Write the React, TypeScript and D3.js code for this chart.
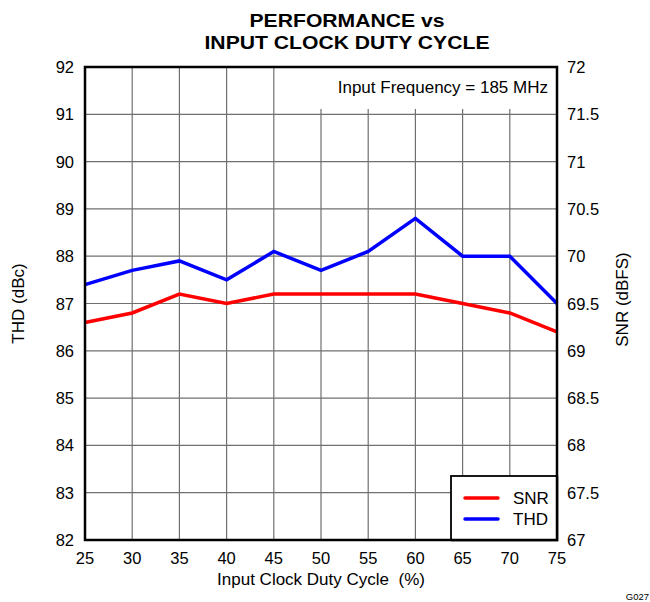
import { useEffect, useRef } from "react";
import * as d3 from "d3";

const dutyCycle = [25, 30, 35, 40, 45, 50, 55, 60, 65, 70, 75];
const thdValues = [87.4, 87.7, 87.9, 87.5, 88.1, 87.7, 88.1, 88.8, 88.0, 88.0, 87.0];
const snrValues = [69.3, 69.4, 69.6, 69.5, 69.6, 69.6, 69.6, 69.6, 69.5, 69.4, 69.2];
const thdTicks = [82, 83, 84, 85, 86, 87, 88, 89, 90, 91, 92];
const snrTicks = [67, 67.5, 68, 68.5, 69, 69.5, 70, 70.5, 71, 71.5, 72];
const seriesNames = ["SNR", "THD"];
const seriesColors = ["#ff0000", "#0000ff"];

function App() {
  const ref = useRef<SVGSVGElement | null>(null);

  useEffect(() => {
    const svg = d3.select(ref.current);
    svg.selectAll("*").remove();

    const left = 85;
    const right = 557;
    const top = 67;
    const bottom = 540;
    const font = "'Liberation Sans', Arial, sans-serif";
    const fs = 16.5;

    const x = d3.scaleLinear().domain([25, 75]).range([left, right]);
    const yL = d3.scaleLinear().domain([82, 92]).range([bottom, top]);
    const yR = d3.scaleLinear().domain([67, 72]).range([bottom, top]);

    svg.append("rect").attr("width", 650).attr("height", 602).attr("fill", "#fff");

    // title (two lines, slightly squeezed so the lines don't touch)
    const titleLines = [
      { text: "PERFORMANCE vs", y: 27, len: 195 },
      { text: "INPUT CLOCK DUTY CYCLE", y: 48.5, len: 285 },
    ];
    titleLines.forEach((t) => {
      svg
        .append("text")
        .attr("x", 347)
        .attr("y", t.y)
        .attr("text-anchor", "middle")
        .attr("font-family", font)
        .attr("font-weight", "bold")
        .attr("font-size", 18.5)
        .attr("textLength", t.len)
        .attr("lengthAdjust", "spacingAndGlyphs")
        .text(t.text);
    });

    // grid
    const grid = svg.append("g").attr("stroke", "#707070").attr("stroke-width", 1.2);
    grid
      .selectAll("line.v")
      .data(dutyCycle.slice(1, -1))
      .enter()
      .append("line")
      .attr("x1", (d) => x(d))
      .attr("x2", (d) => x(d))
      .attr("y1", top)
      .attr("y2", bottom);
    grid
      .selectAll("line.h")
      .data(thdTicks.slice(1, -1))
      .enter()
      .append("line")
      .attr("x1", left)
      .attr("x2", right)
      .attr("y1", (d) => yL(d))
      .attr("y2", (d) => yL(d));

    // annotation box
    svg
      .append("rect")
      .attr("x", x(45) + 1.5)
      .attr("y", top)
      .attr("width", right - x(45) - 1.5)
      .attr("height", 42)
      .attr("fill", "#fff");
    svg
      .append("text")
      .attr("x", right - 9)
      .attr("y", 93)
      .attr("text-anchor", "end")
      .attr("font-family", font)
      .attr("font-size", 17)
      .text("Input Frequency = 185 MHz");

    // series
    const lineThd = d3
      .line<number>()
      .x((_, i) => x(dutyCycle[i]))
      .y((d) => yL(d));
    const lineSnr = d3
      .line<number>()
      .x((_, i) => x(dutyCycle[i]))
      .y((d) => yR(d));

    svg
      .append("path")
      .datum(snrValues)
      .attr("d", lineSnr)
      .attr("fill", "none")
      .attr("stroke", seriesColors[0])
      .attr("stroke-width", 3.5);
    svg
      .append("path")
      .datum(thdValues)
      .attr("d", lineThd)
      .attr("fill", "none")
      .attr("stroke", seriesColors[1])
      .attr("stroke-width", 3.5);

    // frame
    svg
      .append("rect")
      .attr("x", left)
      .attr("y", top)
      .attr("width", right - left)
      .attr("height", bottom - top)
      .attr("fill", "none")
      .attr("stroke", "#000")
      .attr("stroke-width", 2.5);

    // left axis labels
    svg
      .append("g")
      .selectAll("text")
      .data(thdTicks)
      .enter()
      .append("text")
      .attr("x", left - 11)
      .attr("y", (d) => yL(d) + 6)
      .attr("text-anchor", "end")
      .attr("font-family", font)
      .attr("font-size", fs)
      .text((d) => d);

    // right axis labels
    svg
      .append("g")
      .selectAll("text")
      .data(snrTicks)
      .enter()
      .append("text")
      .attr("x", right + 10)
      .attr("y", (d) => yR(d) + 6)
      .attr("text-anchor", "start")
      .attr("font-family", font)
      .attr("font-size", fs)
      .text((d) => d);

    // x axis labels
    svg
      .append("g")
      .selectAll("text")
      .data(dutyCycle)
      .enter()
      .append("text")
      .attr("x", (d) => x(d))
      .attr("y", bottom + 24)
      .attr("text-anchor", "middle")
      .attr("font-family", font)
      .attr("font-size", fs)
      .text((d) => d);

    svg
      .append("text")
      .attr("x", 321)
      .attr("y", 585)
      .attr("text-anchor", "middle")
      .attr("font-family", font)
      .attr("font-size", 17)
      .attr("xml:space", "preserve")
      .style("white-space", "pre")
      .text("Input Clock Duty Cycle  (%)");

    svg
      .append("text")
      .attr("transform", `translate(24,${(top + bottom) / 2}) rotate(-90)`)
      .attr("text-anchor", "middle")
      .attr("font-family", font)
      .attr("font-size", 17)
      .text("THD (dBc)");

    svg
      .append("text")
      .attr("transform", `translate(628,${(top + bottom) / 2 - 4}) rotate(-90)`)
      .attr("text-anchor", "middle")
      .attr("font-family", font)
      .attr("font-size", 17)
      .text("SNR (dBFS)");

    // legend
    const lg = svg.append("g");
    lg.append("rect")
      .attr("x", 451)
      .attr("y", 476)
      .attr("width", right - 451)
      .attr("height", bottom - 476)
      .attr("fill", "#fff")
      .attr("stroke", "#000")
      .attr("stroke-width", 1.8);
    seriesNames.forEach((name, i) => {
      const ly = 498 + i * 21;
      lg.append("line")
        .attr("x1", 465)
        .attr("x2", 498)
        .attr("y1", ly)
        .attr("y2", ly)
        .attr("stroke", seriesColors[i])
        .attr("stroke-width", 3.5)
        .attr("stroke-linecap", "round");
      lg.append("text")
        .attr("x", 513)
        .attr("y", ly + 6)
        .attr("font-family", font)
        .attr("font-size", 17)
        .text(name);
    });
    // redraw frame edges over legend
    svg
      .append("path")
      .attr("d", `M451,${bottom}H${right}V476`)
      .attr("fill", "none")
      .attr("stroke", "#000")
      .attr("stroke-width", 2.5);

    svg
      .append("text")
      .attr("x", 649)
      .attr("y", 600)
      .attr("text-anchor", "end")
      .attr("font-family", font)
      .attr("font-size", 9.5)
      .text("G027");
  }, []);

  return (
    <svg
      ref={ref}
      width={650}
      height={602}
      style={{ position: "absolute", left: 0, top: 0, display: "block" }}
    />
  );
}

export default App;
